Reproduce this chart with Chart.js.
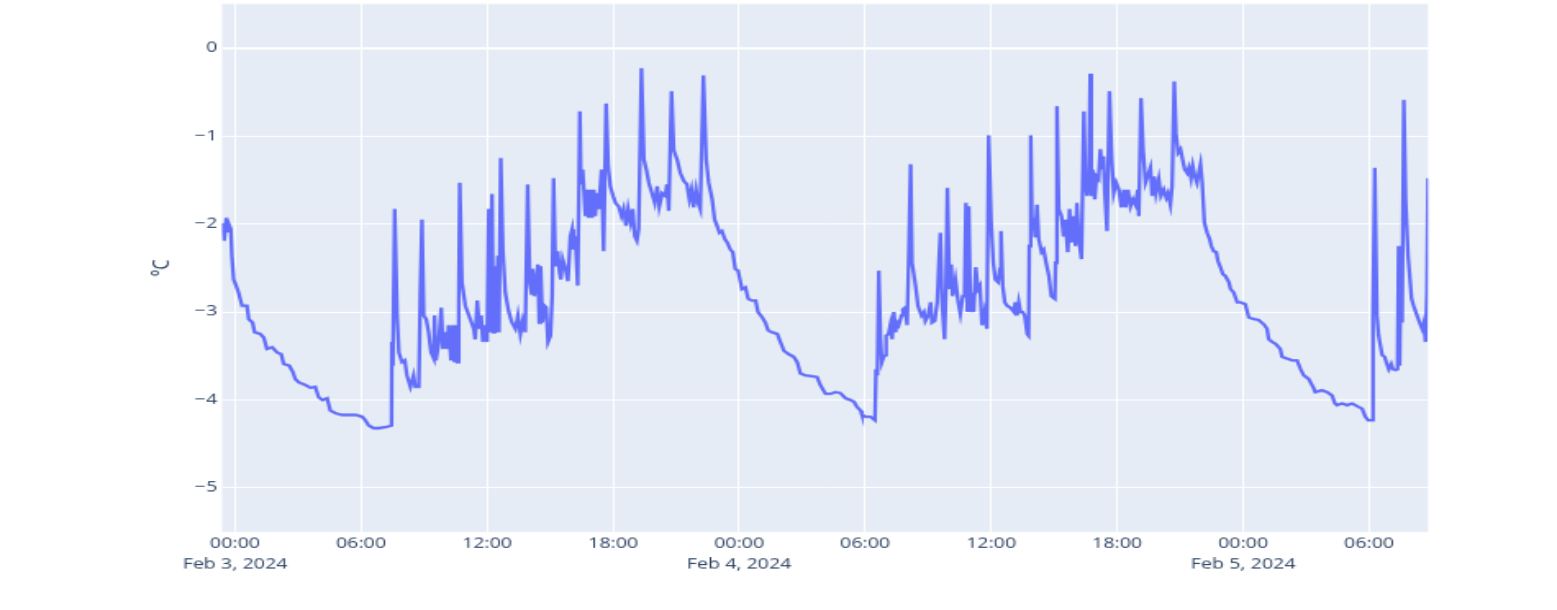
<!DOCTYPE html>
<html>
<head>
<meta charset="utf-8">
<script src="https://cdn.jsdelivr.net/npm/chart.js@4.4.1/dist/chart.umd.min.js"></script>
<style>
  html, body { margin: 0; padding: 0; background: #ffffff; overflow: hidden; width: 1557px; height: 610px; }
  #page { position: relative; width: 1557px; height: 610px; overflow: hidden; }
  #wrap { position: absolute; left: 0; top: 0; width: 950px; height: 530px; transform: scale(1.6389, 1.1509); transform-origin: 0 0; }
</style>
</head>
<body>
<div id="page"><div id="wrap"><canvas id="c" width="950" height="530"></canvas></div></div>
<script>
// ---- data ----
const times = [
"02-02 23:23","02-02 23:29","02-02 23:35","02-02 23:40","02-02 23:44","02-02 23:48","02-02 23:51","02-02 23:56",
"02-03 00:03","02-03 00:10","02-03 00:20","02-03 00:34","02-03 00:39","02-03 00:50","02-03 00:56","02-03 01:12",
"02-03 01:22","02-03 01:31","02-03 01:46","02-03 02:00","02-03 02:12","02-03 02:19","02-03 02:35","02-03 02:45",
"02-03 02:52","02-03 03:02","02-03 03:21","02-03 03:35","02-03 03:49","02-03 03:59","02-03 04:10","02-03 04:23",
"02-03 04:32","02-03 04:47","02-03 05:06","02-03 05:25","02-03 05:44","02-03 06:03","02-03 06:12","02-03 06:22",
"02-03 06:36","02-03 06:50","02-03 07:09","02-03 07:27","02-03 07:28","02-03 07:31","02-03 07:36","02-03 07:43",
"02-03 07:48","02-03 07:57","02-03 08:05","02-03 08:11","02-03 08:21","02-03 08:30","02-03 08:35","02-03 08:45",
"02-03 08:49","02-03 08:54","02-03 08:59","02-03 09:06","02-03 09:13","02-03 09:20","02-03 09:28","02-03 09:30",
"02-03 09:34","02-03 09:42","02-03 09:49","02-03 09:54","02-03 10:01","02-03 10:06","02-03 10:10","02-03 10:17",
"02-03 10:22","02-03 10:27","02-03 10:31","02-03 10:35","02-03 10:39","02-03 10:42","02-03 10:48","02-03 10:58",
"02-03 11:12","02-03 11:22","02-03 11:26","02-03 11:32","02-03 11:38","02-03 11:43","02-03 11:48","02-03 11:55",
"02-03 12:00","02-03 12:05","02-03 12:09","02-03 12:14","02-03 12:18","02-03 12:22","02-03 12:27","02-03 12:31",
"02-03 12:34","02-03 12:39","02-03 12:45","02-03 12:52","02-03 13:02","02-03 13:11","02-03 13:21","02-03 13:28",
"02-03 13:35","02-03 13:42","02-03 13:49","02-03 13:56","02-03 14:02","02-03 14:07","02-03 14:10","02-03 14:15",
"02-03 14:20","02-03 14:25","02-03 14:29","02-03 14:33","02-03 14:38","02-03 14:44","02-03 14:49","02-03 14:54",
"02-03 15:01","02-03 15:06","02-03 15:10","02-03 15:15","02-03 15:22","02-03 15:27","02-03 15:31","02-03 15:36",
"02-03 15:44","02-03 15:51","02-03 15:58","02-03 16:03","02-03 16:07","02-03 16:12","02-03 16:19","02-03 16:25",
"02-03 16:28","02-03 16:33","02-03 16:41","02-03 16:46","02-03 16:50","02-03 16:55","02-03 17:00","02-03 17:05",
"02-03 17:09","02-03 17:14","02-03 17:19","02-03 17:27","02-03 17:33","02-03 17:40","02-03 17:46","02-03 17:52",
"02-03 18:00","02-03 18:07","02-03 18:16","02-03 18:24","02-03 18:30","02-03 18:37","02-03 18:43","02-03 18:50",
"02-03 18:56","02-03 19:02","02-03 19:08","02-03 19:13","02-03 19:21","02-03 19:28","02-03 19:35","02-03 19:42",
"02-03 19:51","02-03 19:59","02-03 20:06","02-03 20:12","02-03 20:20","02-03 20:29","02-03 20:34","02-03 20:39",
"02-03 20:47","02-03 20:53","02-03 21:03","02-03 21:12","02-03 21:22","02-03 21:31","02-03 21:38","02-03 21:44",
"02-03 21:50","02-03 21:57","02-03 22:03","02-03 22:09","02-03 22:18","02-03 22:26","02-03 22:33","02-03 22:43",
"02-03 22:50","02-03 22:57","02-03 23:04","02-03 23:11","02-03 23:19","02-03 23:26","02-03 23:35","02-03 23:42",
"02-03 23:49","02-03 23:57","02-04 00:04","02-04 00:08","02-04 00:18","02-04 00:26","02-04 00:37","02-04 00:47",
"02-04 00:54","02-04 01:06","02-04 01:15","02-04 01:23","02-04 01:34","02-04 01:49","02-04 01:58","02-04 02:08",
"02-04 02:22","02-04 02:36","02-04 02:46","02-04 02:55","02-04 03:09","02-04 03:28","02-04 03:43","02-04 03:52",
"02-04 04:07","02-04 04:21","02-04 04:35","02-04 04:49","02-04 05:04","02-04 05:18","02-04 05:28","02-04 05:37",
"02-04 05:47","02-04 05:51","02-04 06:01","02-04 06:15","02-04 06:28","02-04 06:31","02-04 06:35","02-04 06:39",
"02-04 06:44","02-04 06:48","02-04 06:53","02-04 06:58","02-04 07:00","02-04 07:07","02-04 07:12","02-04 07:17",
"02-04 07:22","02-04 07:27","02-04 07:31","02-04 07:36","02-04 07:44","02-04 07:48","02-04 07:55","02-04 08:00",
"02-04 08:05","02-04 08:10","02-04 08:14","02-04 08:24","02-04 08:31","02-04 08:41","02-04 08:48","02-04 08:52",
"02-04 09:00","02-04 09:07","02-04 09:11","02-04 09:19","02-04 09:26","02-04 09:30","02-04 09:35","02-04 09:40",
"02-04 09:47","02-04 09:51","02-04 09:55","02-04 10:01","02-04 10:06","02-04 10:10","02-04 10:18","02-04 10:26",
"02-04 10:32","02-04 10:39","02-04 10:44","02-04 10:48","02-04 10:52","02-04 10:56","02-04 11:01","02-04 11:06",
"02-04 11:10","02-04 11:16","02-04 11:22","02-04 11:28","02-04 11:34","02-04 11:41","02-04 11:48","02-04 11:53",
"02-04 12:00","02-04 12:06","02-04 12:12","02-04 12:20","02-04 12:25","02-04 12:28","02-04 12:33","02-04 12:39",
"02-04 12:46","02-04 12:55","02-04 13:05","02-04 13:09","02-04 13:14","02-04 13:19","02-04 13:24","02-04 13:30",
"02-04 13:36","02-04 13:43","02-04 13:47","02-04 13:49","02-04 13:53","02-04 13:57","02-04 14:02","02-04 14:06",
"02-04 14:11","02-04 14:16","02-04 14:24","02-04 14:30","02-04 14:37","02-04 14:45","02-04 14:52","02-04 15:02",
"02-04 15:04","02-04 15:08","02-04 15:13","02-04 15:21","02-04 15:27","02-04 15:32","02-04 15:39","02-04 15:44",
"02-04 15:49","02-04 15:56","02-04 16:01","02-04 16:05","02-04 16:10","02-04 16:18","02-04 16:25","02-04 16:29",
"02-04 16:34","02-04 16:39","02-04 16:43","02-04 16:46","02-04 16:50","02-04 16:56","02-04 17:01","02-04 17:07",
"02-04 17:12","02-04 17:17","02-04 17:21","02-04 17:25","02-04 17:31","02-04 17:38","02-04 17:44","02-04 17:50",
"02-04 17:57","02-04 18:05","02-04 18:12","02-04 18:19","02-04 18:24","02-04 18:31","02-04 18:38","02-04 18:45",
"02-04 18:52","02-04 18:59","02-04 19:02","02-04 19:08","02-04 19:14","02-04 19:21","02-04 19:27","02-04 19:35",
"02-04 19:40","02-04 19:46","02-04 19:51","02-04 19:59","02-04 20:05","02-04 20:13","02-04 20:20","02-04 20:25",
"02-04 20:32","02-04 20:37","02-04 20:43","02-04 20:48","02-04 20:54","02-04 21:01","02-04 21:07","02-04 21:13",
"02-04 21:20","02-04 21:25","02-04 21:31","02-04 21:36","02-04 21:42","02-04 21:48","02-04 21:53","02-04 21:58",
"02-04 22:03","02-04 22:09","02-04 22:17","02-04 22:24","02-04 22:29","02-04 22:36","02-04 22:43","02-04 22:48",
"02-04 22:55","02-04 23:02","02-04 23:09","02-04 23:19","02-04 23:24","02-04 23:33","02-04 23:43","02-04 23:52",
"02-05 00:06","02-05 00:16","02-05 00:30","02-05 00:44","02-05 00:59","02-05 01:08","02-05 01:13","02-05 01:23",
"02-05 01:32","02-05 01:46","02-05 01:51","02-05 02:05","02-05 02:20","02-05 02:34","02-05 02:44","02-05 02:53",
"02-05 03:07","02-05 03:22","02-05 03:26","02-05 03:45","02-05 04:00","02-05 04:14","02-05 04:22","02-05 04:28",
"02-05 04:43","02-05 04:57","02-05 05:11","02-05 05:21","02-05 05:30","02-05 05:40","02-05 05:49","02-05 05:57",
"02-05 06:08","02-05 06:11","02-05 06:16","02-05 06:22","02-05 06:27","02-05 06:37","02-05 06:44","02-05 06:49",
"02-05 06:56","02-05 07:03","02-05 07:08","02-05 07:15","02-05 07:21","02-05 07:24","02-05 07:27","02-05 07:31",
"02-05 07:34","02-05 07:39","02-05 07:44","02-05 07:51","02-05 08:01","02-05 08:07","02-05 08:15","02-05 08:24",
"02-05 08:31","02-05 08:36","02-05 08:41","02-05 08:45","02-05 08:48"
];
const temps = [
-1.99,-2.19,-1.93,-2.08,-2.02,-2.06,-2.36,-2.63,
-2.70,-2.78,-2.93,-2.93,-3.08,-3.12,-3.23,-3.25,
-3.29,-3.42,-3.40,-3.46,-3.48,-3.59,-3.61,-3.68,
-3.76,-3.80,-3.83,-3.86,-3.85,-3.97,-4.00,-3.98,
-4.12,-4.15,-4.17,-4.17,-4.17,-4.19,-4.23,-4.29,
-4.32,-4.32,-4.31,-4.29,-3.34,-3.61,-1.83,-3.04,
-3.46,-3.57,-3.55,-3.72,-3.85,-3.72,-3.85,-3.85,
-2.83,-1.95,-3.04,-3.08,-3.23,-3.46,-3.53,-3.04,
-3.55,-3.34,-2.95,-3.42,-3.23,-3.42,-3.15,-3.55,
-3.15,-3.57,-3.15,-3.57,-2.93,-1.53,-2.66,-2.93,
-3.08,-3.19,-3.31,-2.87,-3.19,-3.04,-3.34,-3.15,
-3.34,-1.83,-3.23,-1.66,-3.23,-2.48,-3.23,-2.36,
-3.23,-1.25,-2.29,-2.78,-3.00,-3.12,-3.19,-3.04,
-3.25,-3.10,-3.23,-1.55,-2.66,-2.79,-2.51,-2.82,
-2.66,-2.46,-3.12,-2.48,-3.12,-2.93,-2.95,-3.34,
-3.27,-2.82,-1.48,-2.48,-2.31,-2.55,-2.63,-2.40,
-2.51,-2.65,-2.14,-2.06,-2.29,-2.14,-2.70,-0.72,
-1.55,-1.38,-1.91,-1.61,-1.93,-1.61,-1.93,-1.61,
-1.91,-1.65,-1.83,-1.38,-2.31,-0.63,-1.34,-1.57,
-1.68,-1.76,-1.80,-1.91,-1.83,-2.02,-1.83,-1.98,
-1.83,-2.14,-2.19,-2.06,-0.23,-1.27,-1.38,-1.53,
-1.65,-1.76,-1.57,-1.80,-1.65,-1.68,-1.55,-1.85,
-0.49,-1.16,-1.27,-1.42,-1.51,-1.55,-1.72,-1.61,
-1.81,-1.61,-1.76,-1.83,-0.31,-1.27,-1.53,-1.72,
-1.95,-2.02,-2.10,-2.08,-2.17,-2.21,-2.29,-2.32,
-2.51,-2.53,-2.66,-2.74,-2.72,-2.85,-2.87,-2.87,
-3.00,-3.06,-3.12,-3.21,-3.23,-3.25,-3.34,-3.44,
-3.48,-3.51,-3.57,-3.70,-3.72,-3.73,-3.74,-3.83,
-3.93,-3.93,-3.91,-3.92,-3.98,-4.00,-4.02,-4.08,
-4.12,-4.17,-4.19,-4.19,-4.23,-3.65,-3.72,-2.53,
-3.31,-3.57,-3.51,-3.49,-3.27,-3.25,-3.15,-3.31,
-3.00,-3.23,-3.12,-3.15,-3.04,-2.97,-2.95,-3.15,
-2.29,-1.32,-2.44,-2.70,-2.93,-3.04,-3.00,-3.10,
-3.04,-2.89,-3.12,-3.10,-2.89,-2.51,-2.10,-2.89,
-3.31,-2.70,-1.59,-2.74,-2.46,-2.82,-2.63,-2.89,
-3.02,-2.82,-2.82,-1.76,-3.00,-1.80,-3.00,-2.78,
-3.00,-2.49,-2.74,-2.70,-3.15,-3.00,-3.19,-0.99,
-1.98,-2.44,-2.63,-2.66,-2.51,-2.08,-2.70,-2.89,
-2.93,-2.95,-3.00,-2.89,-3.04,-2.89,-3.00,-3.00,
-3.04,-3.25,-3.27,-2.25,-0.99,-2.02,-1.98,-2.15,
-1.78,-2.17,-2.32,-2.29,-2.44,-2.59,-2.82,-2.85,
-2.44,-0.66,-1.83,-1.91,-2.14,-1.95,-2.32,-1.83,
-2.21,-1.91,-2.25,-1.76,-2.14,-2.40,-0.72,-1.53,
-1.68,-1.49,-0.29,-1.68,-1.38,-1.72,-1.46,-1.49,
-1.15,-1.38,-1.23,-1.65,-2.08,-0.49,-1.23,-1.65,
-1.53,-1.61,-1.81,-1.61,-1.81,-1.61,-1.80,-1.72,
-1.78,-1.61,-1.91,-0.57,-1.15,-1.53,-1.46,-1.36,
-1.68,-1.46,-1.65,-1.49,-1.68,-1.61,-1.70,-1.65,
-1.78,-1.57,-0.38,-0.97,-1.19,-1.15,-1.27,-1.38,
-1.42,-1.36,-1.48,-1.34,-1.46,-1.53,-1.42,-1.32,
-1.53,-1.98,-2.10,-2.17,-2.25,-2.31,-2.32,-2.42,
-2.49,-2.57,-2.59,-2.66,-2.74,-2.78,-2.89,-2.89,
-2.91,-3.06,-3.08,-3.09,-3.14,-3.19,-3.31,-3.34,
-3.36,-3.42,-3.51,-3.53,-3.55,-3.55,-3.65,-3.72,
-3.76,-3.87,-3.91,-3.89,-3.91,-3.95,-4.04,-4.06,
-4.04,-4.06,-4.04,-4.06,-4.08,-4.10,-4.19,-4.23,
-4.23,-3.04,-1.36,-3.04,-3.27,-3.49,-3.51,-3.57,
-3.65,-3.59,-3.65,-3.66,-3.65,-2.25,-3.61,-2.29,
-3.12,-0.59,-1.72,-2.36,-2.85,-2.93,-3.02,-3.12,
-3.19,-3.12,-3.34,-2.78,-1.48
];
const xTickTimes = ["02-03 00:00","02-03 06:00","02-03 12:00","02-03 18:00","02-04 00:00","02-04 06:00","02-04 12:00","02-04 18:00","02-05 00:00","02-05 06:00"];
const xTickLabels = [["00:00","Feb 3, 2024"],"06:00","12:00","18:00",["00:00","Feb 4, 2024"],"06:00","12:00","18:00",["00:00","Feb 5, 2024"],"06:00"];
const yTickValues = [0, -1, -2, -3, -4, -5];
const yRange = [-5.5, 0.5];
const yTitle = "°C";

// ---- build ----
const BASE = Date.UTC(2024, 1, 3, 0, 0);
function toHours(s) {
  const [md, hm] = s.split(' ');
  const [mo, d] = md.split('-').map(Number);
  const [h, m] = hm.split(':').map(Number);
  return (Date.UTC(2024, mo - 1, d, h, m) - BASE) / 3600000;
}
const xs = times.map(toHours);
const points = xs.map((x, i) => ({ x: x, y: temps[i] }));
const xTickHours = xTickTimes.map(toHours);
const FONT = '"Open Sans", verdana, arial, sans-serif';
const TXT = '#2a3f5f';
const fmtY = v => (v < 0 ? '\u2212' + Math.abs(v) : String(v));
const labelForHour = v => {
  const k = xTickHours.findIndex(h => Math.abs(h - v) < 1e-6);
  return k >= 0 ? xTickLabels[k] : '';
};

const bgPlugin = {
  id: 'plotBg',
  beforeDraw(chart) {
    const { ctx, chartArea: a } = chart;
    ctx.save();
    ctx.fillStyle = '#E5ECF6';
    ctx.fillRect(a.left, a.top, a.right - a.left, a.bottom - a.top);
    ctx.restore();
  }
};

new Chart(document.getElementById('c'), {
  type: 'line',
  data: {
    datasets: [{
      data: points,
      borderColor: '#636EFA',
      borderWidth: 2.3,
      pointRadius: 0,
      tension: 0,
      fill: false
    }]
  },
  options: {
    responsive: false,
    animation: false,
    devicePixelRatio: 1,
    layout: { padding: { left: 90.4, top: 3.5, right: 78.7, bottom: 29 } },
    plugins: { legend: { display: false }, tooltip: { enabled: false } },
    scales: {
      x: {
        type: 'linear',
        position: 'bottom',
        min: xs[0],
        max: xs[xs.length - 1],
        afterBuildTicks: s => { s.ticks = xTickHours.map(h => ({ value: h })); },
        afterFit: s => { s.paddingLeft = 0; s.paddingRight = 0; },
        grid: { color: '#ffffff', lineWidth: 1, drawTicks: false },
        border: { display: false },
        ticks: {
          display: true, autoSkip: false, maxRotation: 0, minRotation: 0, padding: 2,
          color: TXT, font: { family: FONT, size: 12, lineHeight: 1.45 },
          callback: v => labelForHour(v)
        }
      },
      y: {
        min: yRange[0],
        max: yRange[1],
        afterBuildTicks: s => { s.ticks = yTickValues.map(v => ({ value: v })); },
        afterFit: s => { s.width = 45.1; s.paddingTop = 0; s.paddingBottom = 0; },
        grid: {
          color: '#ffffff',
          lineWidth: c => (c.tick && c.tick.value === 0 ? 2 : 1),
          drawTicks: false
        },
        border: { display: false },
        ticks: {
          padding: 3, color: TXT, font: { family: FONT, size: 12 },
          callback: v => fmtY(v)
        },
        title: {
          display: true, text: yTitle, color: TXT, padding: 0,
          font: { family: FONT, size: 14 }
        }
      }
    }
  },
  plugins: [bgPlugin]
});
</script>
</body>
</html>
